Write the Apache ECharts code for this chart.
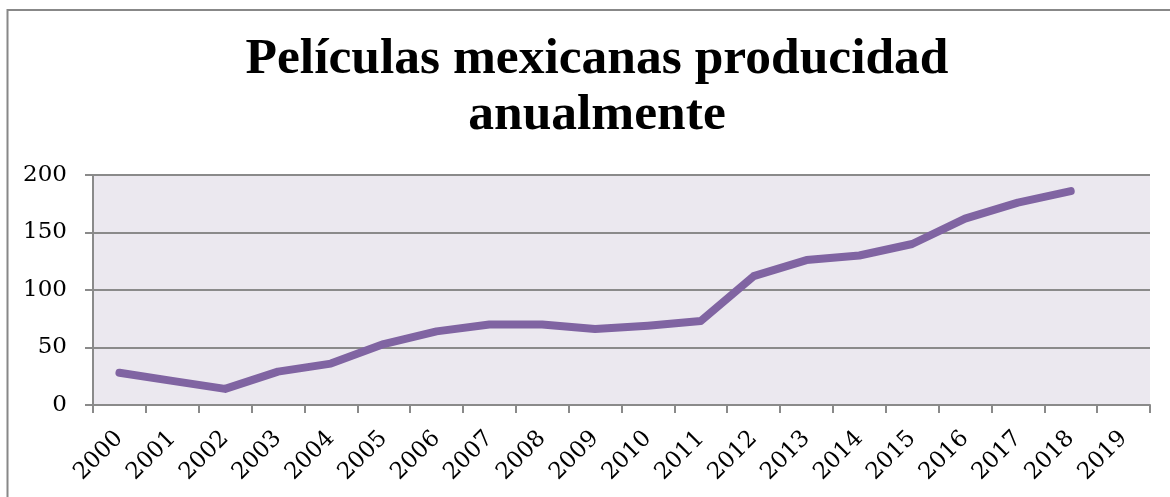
<!DOCTYPE html>
<html>
<head>
<meta charset="utf-8">
<script src="https://cdn.jsdelivr.net/npm/echarts@6/dist/echarts.min.js"></script>
<style>html,body{margin:0;padding:0;background:#fff;}#c{width:1170px;height:497px;}</style>
</head>
<body>
<div id="c"></div>
<script>
const categories = ['2000','2001','2002','2003','2004','2005','2006','2007','2008','2009','2010','2011','2012','2013','2014','2015','2016','2017','2018','2019'];
const peliculas = [28, 21, 14, 29, 36, 53, 64, 70, 70, 66, 69, 73, 112, 126, 130, 140, 162, 176, 186, null];
const yTicks = [0, 50, 100, 150, 200];
const titleText = 'Películas mexicanas producidad\nanualmente';

const chart = echarts.init(document.getElementById('c'), null, {renderer:'canvas'});
const serif = '"Liberation Serif", "DejaVu Serif", serif';
const tickFont = '"DejaVu Serif", "Liberation Serif", serif';
chart.setOption({
  animation: false,
  backgroundColor: '#ffffff',
  graphic: [{
    type: 'rect', z: -1,
    shape: {x: 7.5, y: 10, width: 1200, height: 600},
    style: {fill: 'none', stroke: '#888888', lineWidth: 2}
  }],
  title: {
    text: titleText,
    left: 592, top: 27, textAlign: 'center',
    textStyle: {fontFamily: serif, fontWeight: 'bold', fontSize: 51.5, lineHeight: 56, color: '#000'}
  },
  grid: {left: 93, right: 20, top: 175, bottom: 92, show: true, backgroundColor: '#EBE8EF', borderWidth: 0},
  xAxis: {
    type: 'category', data: categories, boundaryGap: true,
    axisLine: {lineStyle: {color: '#8a8a8a', width: 2}},
    axisTick: {show: true, length: 8, lineStyle: {color: '#8a8a8a', width: 2}},
    axisLabel: {rotate: 45, fontFamily: tickFont, fontSize: 23, color: '#000', margin: 30, interval: 0},
    splitLine: {show: false}
  },
  yAxis: {
    type: 'value', min: yTicks[0], max: yTicks[yTicks.length-1], interval: 50,
    axisLine: {show: true, lineStyle: {color: '#8a8a8a', width: 2}},
    axisTick: {show: true, length: 8, lineStyle: {color: '#8a8a8a', width: 2}},
    axisLabel: {fontFamily: tickFont, fontSize: 23, color: '#000', margin: 26},
    splitLine: {lineStyle: {color: '#8a8a8a', width: 2}}
  },
  series: [{
    type: 'line', data: peliculas, showSymbol: false, symbol: 'none',
    lineStyle: {color: '#8064A2', width: 8, cap: 'round', join: 'round'},
    itemStyle: {color: '#8064A2'}
  }]
});
</script>
</body>
</html>
